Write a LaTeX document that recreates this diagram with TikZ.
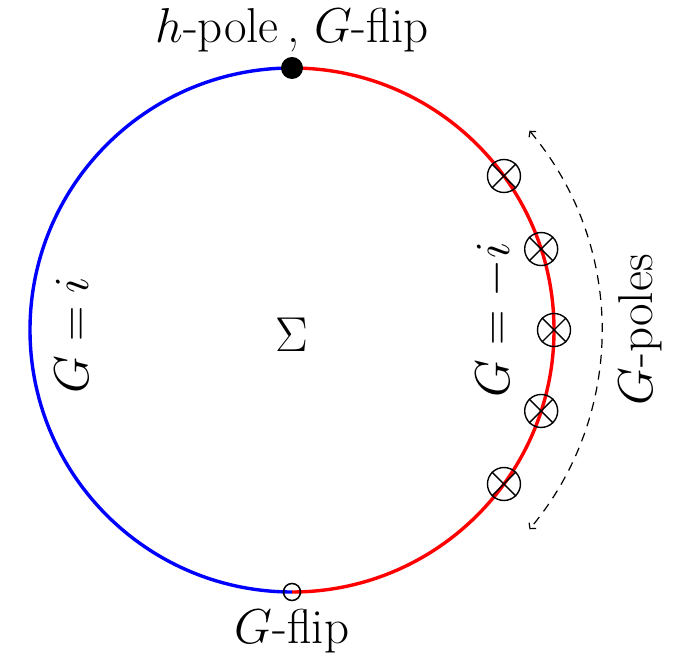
\RequirePackage{fix-cm}
\documentclass[tikz,border=0pt]{standalone}
\usetikzlibrary{arrows.meta,calc}
\begin{document}
\begin{tikzpicture}[x=1pt,y=1pt,
  font=\fontsize{49}{56}\selectfont,
  lbl/.style={inner sep=0pt},
  rim/.style={line width=3.4pt},
  pole/.style={circle,draw,line width=1.4pt,minimum size=33pt,inner sep=0pt},
  xline/.style={line width=1.4pt},
  tip/.style={{Straight Barb[length=4pt,width=9pt]}-{Straight Barb[length=4pt,width=9pt]}},
  polearc/.style={line width=1.2pt,dash pattern=on 9pt off 7pt,tip}]
\useasboundingbox (0,0) rectangle (698,658);
\coordinate (O) at (292,328);
\coordinate (T) at (292,590);
\coordinate (B) at (292,66);
\draw[rim,blue] (T) arc (90:270:262);
\draw[rim,red] (T) arc (90:-90:262);
\foreach \i/\a in {1/36,2/18,3/0,4/-18,5/-36}{
  \node[pole] (p\i) at ($(O)+(\a:262)$) {};
  \draw[xline] (p\i.45) -- (p\i.225);
  \draw[xline] (p\i.135) -- (p\i.315);
}
\node[circle,fill=black,minimum size=22pt,inner sep=0pt] (top) at (T) {};
\node[circle,draw,line width=1.5pt,minimum size=17pt,inner sep=0pt] (bot) at (B) {};
\coordinate (dA) at ($(O)+(40:310)$);
\draw[polearc] (dA) arc (40:-40:310);
\node[lbl] (toplbl) at (292,628) {$h$-pole\,, $G$-flip};
\node[lbl] (botlbl) at (292,27) {$G$-flip};
\node[lbl,rotate=90] (gi) at (72,323) {$G=i$};
\node[lbl] (sig) at (292,323) {$\Sigma$};
\node[lbl,rotate=90] (gmi) at (495,338) {$G=-i$};
\node[lbl,rotate=90] (gp) at (640,328) {$G$-poles};
\end{tikzpicture}
\end{document}
